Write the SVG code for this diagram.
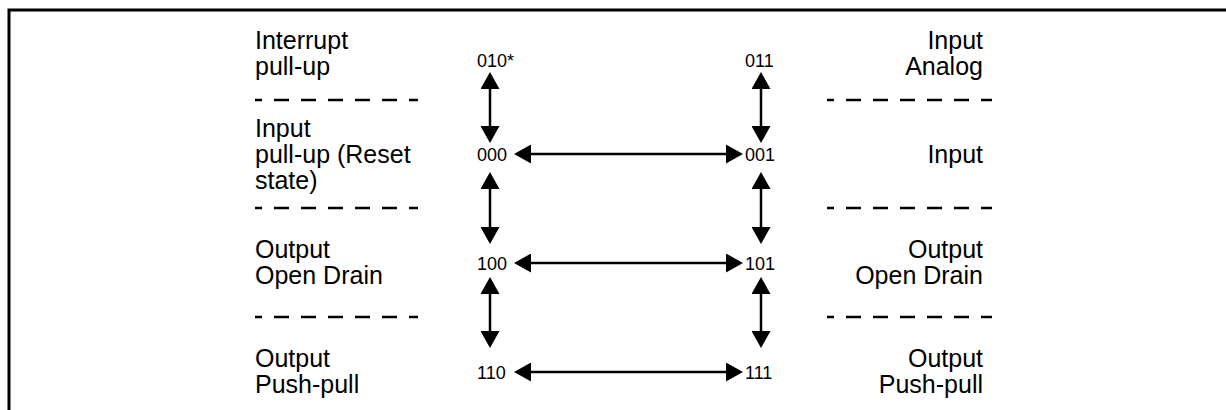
<svg xmlns="http://www.w3.org/2000/svg" width="1226" height="410" viewBox="0 0 1226 410">
<defs>
<style>
.lbl{font-family:"Liberation Sans",Arial,sans-serif;font-size:25px;fill:#000}
.r{text-anchor:end}
.code{font-family:"Liberation Sans",Arial,sans-serif;font-size:18px;fill:#000}
.conn{stroke:#000;stroke-width:2.5;fill:none;marker-start:url(#ah);marker-end:url(#ah)}
.dash{stroke:#000;stroke-width:2.5;stroke-dasharray:15 12;stroke-dashoffset:8;fill:none}
.frame{stroke:#000;stroke-width:3;fill:none}
</style>
<marker id="ah" viewBox="0 0 17 19" markerWidth="17" markerHeight="19" refX="8" refY="9.5" orient="auto-start-reverse" markerUnits="userSpaceOnUse">
<path d="M0,0 L17,9.5 L0,19 Z" fill="#000"/>
</marker>
</defs>
<rect width="1226" height="410" fill="#fff"/>
<path class="frame" d="M9,410 V10 H1226"/>

<g id="separators">
<line class="dash" x1="255" y1="100" x2="418" y2="100"/>
<line class="dash" x1="255" y1="208" x2="418" y2="208"/>
<line class="dash" x1="255" y1="317" x2="418" y2="317"/>
<line class="dash" x1="827" y1="100" x2="992" y2="100"/>
<line class="dash" x1="827" y1="208" x2="992" y2="208"/>
<line class="dash" x1="827" y1="317" x2="992" y2="317"/>
</g>

<g id="label-interrupt-pullup">
<text class="lbl" x="255" y="49">Interrupt</text>
<text class="lbl" x="255" y="75">pull-up</text>
</g>
<g id="label-input-pullup">
<text class="lbl" x="255" y="137">Input</text>
<text class="lbl" x="255" y="163">pull-up (Reset</text>
<text class="lbl" x="255" y="189">state)</text>
</g>
<g id="label-output-od-left">
<text class="lbl" x="255" y="258">Output</text>
<text class="lbl" x="255" y="284">Open Drain</text>
</g>
<g id="label-output-pp-left">
<text class="lbl" x="255" y="367">Output</text>
<text class="lbl" x="255" y="393">Push-pull</text>
</g>
<g id="label-input-analog">
<text class="lbl r" x="983" y="49">Input</text>
<text class="lbl r" x="983" y="75">Analog</text>
</g>
<g id="label-input">
<text class="lbl r" x="983" y="163">Input</text>
</g>
<g id="label-output-od-right">
<text class="lbl r" x="983" y="258">Output</text>
<text class="lbl r" x="983" y="284">Open Drain</text>
</g>
<g id="label-output-pp-right">
<text class="lbl r" x="983" y="367">Output</text>
<text class="lbl r" x="983" y="393">Push-pull</text>
</g>

<g id="node-010"><text class="code" x="477" y="67">010*</text></g>
<g id="node-011"><text class="code" x="745" y="67">011</text></g>
<g id="node-000"><text class="code" x="477" y="161">000</text></g>
<g id="node-001"><text class="code" x="745" y="161">001</text></g>
<g id="node-100"><text class="code" x="477" y="270">100</text></g>
<g id="node-101"><text class="code" x="745" y="270">101</text></g>
<g id="node-110"><text class="code" x="477" y="379">110</text></g>
<g id="node-111"><text class="code" x="745" y="379">111</text></g>

<g id="connectors">
<line class="conn" x1="490" y1="81" x2="490" y2="134"/>
<line class="conn" x1="761" y1="81" x2="761" y2="134"/>
<line class="conn" x1="490" y1="181" x2="490" y2="235"/>
<line class="conn" x1="761" y1="181" x2="761" y2="235"/>
<line class="conn" x1="490" y1="286" x2="490" y2="339"/>
<line class="conn" x1="761" y1="286" x2="761" y2="339"/>
<line class="conn" x1="523" y1="154" x2="734" y2="154"/>
<line class="conn" x1="523" y1="263" x2="734" y2="263"/>
<line class="conn" x1="523" y1="372" x2="734" y2="372"/>
</g>
</svg>
